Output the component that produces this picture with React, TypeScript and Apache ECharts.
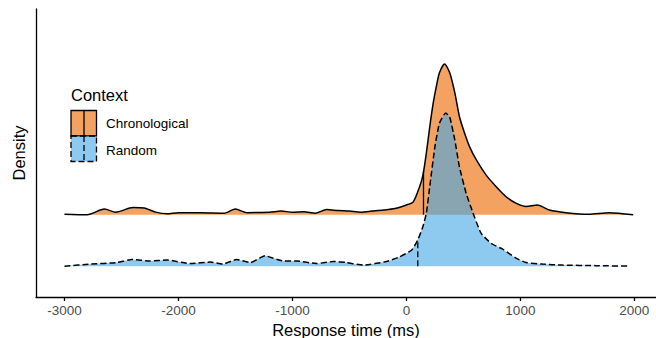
import React, { useEffect, useRef } from "react";
import * as echarts from "echarts";

// Ridge positions (baselines on the density axis)
const CHRONO_BASE = 2;
const RANDOM_BASE = 1;

const xTicks = [-3000, -2000, -1000, 0, 1000, 2000];

// Chronological context: response time (ms) and density height
const chronoX = [
  -3000, -2800, -2650, -2550, -2400, -2300, -2200, -2100, -2000, -1800,
  -1600, -1500, -1400, -1200, -1100, -1000, -900, -800, -700, -600,
  -500, -400, -300, -200, -100, 0, 60, 115, 145, 175,
  205, 235, 265, 290, 335, 380, 425, 465, 510, 555,
  615, 700, 790, 875, 965, 1050, 1150, 1255, 1400, 1600,
  1780, 1990,
];
const chronoH = [
  0.01, 0, 0.11, 0.05, 0.14, 0.13, 0.05, 0.02, 0.04, 0.04,
  0.03, 0.11, 0.04, 0.05, 0.07, 0.05, 0.06, 0.03, 0.1, 0.08,
  0.07, 0.05, 0.07, 0.09, 0.12, 0.19, 0.25, 0.54, 0.77, 1.2,
  1.71, 2.17, 2.52, 2.76, 2.93, 2.76, 2.37, 1.91, 1.59, 1.32,
  1.06, 0.77, 0.54, 0.35, 0.22, 0.16, 0.19, 0.09, 0.04, 0.01,
  0.04, 0,
];

// Random context
const randomX = [
  -3000, -2770, -2540, -2410, -2250, -2100, -1900, -1720, -1610, -1490,
  -1370, -1240, -1080, -960, -790, -640, -525, -380, -175, -60,
  45, 100, 145, 175, 205, 250, 290, 345, 380, 425,
  465, 525, 585, 655, 745, 845, 965, 1050, 1195, 1370,
  1665, 1955,
];
const randomH = [
  0, 0.04, 0.07, 0.13, 0.1, 0.12, 0.05, 0.08, 0.04, 0.13,
  0.07, 0.2, 0.1, 0.1, 0.05, 0.09, 0.07, 0.02, 0.09, 0.18,
  0.31, 0.51, 0.77, 1.03, 1.55, 2.32, 2.78, 2.98, 2.9, 2.45,
  1.93, 1.41, 1.03, 0.64, 0.44, 0.33, 0.15, 0.07, 0.04, 0.02,
  0.01, 0,
];

// Quantile line positions (ms)
const chronoQuantile = 150;
const randomQuantile = 100;

const ORANGE = "#F3A262";
const BLUE = "rgba(67,167,230,0.6)";
const FONT = "Liberation Sans";

function interp(xs: number[], hs: number[], x: number): number {
  for (let i = 0; i < xs.length - 1; i++) {
    if (x >= xs[i] && x <= xs[i + 1]) {
      const t = (x - xs[i]) / (xs[i + 1] - xs[i]);
      return hs[i] + t * (hs[i + 1] - hs[i]);
    }
  }
  return 0;
}

export default function App() {
  const ref = useRef<HTMLDivElement>(null);
  useEffect(() => {
    if (!ref.current) return;
    const chart = echarts.init(ref.current, null, { renderer: "svg" });
    const chronoData = chronoX.map((x, i) => [x, CHRONO_BASE + chronoH[i]]);
    const randomData = randomX.map((x, i) => [x, RANDOM_BASE + randomH[i]]);
    const cq = interp(chronoX, chronoH, chronoQuantile);
    const rq = interp(randomX, randomH, randomQuantile);
    const dashed = [6, 3];

    chart.setOption({
      animation: false,
      grid: {
        left: 36,
        right: 0,
        top: 9,
        bottom: 41,
        containLabel: false,
        outerBoundsMode: "none",
      },
      xAxis: {
        type: "value",
        min: -3250,
        max: 2190,
        name: "Response time (ms)",
        nameLocation: "middle",
        nameGap: 18,
        nameTextStyle: { fontFamily: FONT, fontSize: 16.5, color: "#000" },
        axisLine: { show: true, onZero: false, lineStyle: { color: "#000", width: 1.3 } },
        axisTick: {
          show: true,
          length: 4,
          customValues: xTicks,
          lineStyle: { color: "#000", width: 1.3 },
        },
        axisLabel: {
          customValues: xTicks,
          formatter: (v: number) => String(v),
          fontFamily: FONT,
          fontSize: 13.5,
          color: "#4D4D4D",
          margin: 6,
        },
        splitLine: { show: false },
      },
      yAxis: {
        type: "value",
        min: 0.4,
        max: 6,
        name: "Density",
        nameLocation: "middle",
        nameGap: 9,
        nameRotate: 90,
        nameTextStyle: { fontFamily: FONT, fontSize: 16.5, color: "#000" },
        axisLine: { show: true, onZero: false, lineStyle: { color: "#000", width: 1.3 } },
        axisTick: { show: false },
        axisLabel: { show: false },
        splitLine: { show: false },
      },
      series: [
        {
          type: "line",
          name: "Chronological",
          data: chronoData,
          smooth: 0.25,
          symbol: "none",
          silent: true,
          lineStyle: { color: "#000", width: 1.5 },
          areaStyle: { color: ORANGE, opacity: 1, origin: CHRONO_BASE },
          z: 2,
        },
        {
          type: "line",
          data: [
            [chronoQuantile, CHRONO_BASE],
            [chronoQuantile, CHRONO_BASE + cq],
          ],
          symbol: "none",
          silent: true,
          lineStyle: { color: "#000", width: 1.3 },
          z: 3,
        },
        {
          type: "line",
          name: "Random",
          data: randomData,
          smooth: 0.15,
          symbol: "none",
          silent: true,
          lineStyle: { color: "#000", width: 1.5, type: dashed },
          areaStyle: { color: BLUE, opacity: 1, origin: RANDOM_BASE },
          z: 4,
        },
        {
          type: "line",
          data: [
            [randomQuantile, RANDOM_BASE],
            [randomQuantile, RANDOM_BASE + rq],
          ],
          symbol: "none",
          silent: true,
          lineStyle: { color: "#000", width: 1.3, type: dashed },
          z: 5,
        },
      ],
      graphic: [
        {
          type: "text",
          left: 71,
          top: 86,
          style: { text: "Context", fontFamily: FONT, fontSize: 16.5, fill: "#000" },
        },
        {
          type: "rect",
          shape: { x: 71, y: 110.5, width: 25.5, height: 25.5 },
          style: { fill: ORANGE, stroke: "#000", lineWidth: 1.3 },
        },
        {
          type: "line",
          shape: { x1: 84, y1: 110.5, x2: 84, y2: 136 },
          style: { stroke: "#000", lineWidth: 1.3 },
        },
        {
          type: "rect",
          shape: { x: 71, y: 136, width: 25.5, height: 25.5 },
          style: { fill: BLUE, stroke: "#000", lineWidth: 1.3, lineDash: dashed },
        },
        {
          type: "line",
          shape: { x1: 84, y1: 136, x2: 84, y2: 161.5 },
          style: { stroke: "#000", lineWidth: 1.3, lineDash: dashed },
        },
        {
          type: "text",
          left: 106,
          top: 116,
          style: { text: "Chronological", fontFamily: FONT, fontSize: 13.5, fill: "#000" },
        },
        {
          type: "text",
          left: 106,
          top: 143,
          style: { text: "Random", fontFamily: FONT, fontSize: 13.5, fill: "#000" },
        },
      ],
    });
    return () => chart.dispose();
  }, []);
  return (
    <div
      ref={ref}
      style={{ position: "fixed", left: 0, top: 0, width: 656, height: 338, background: "#fff" }}
    />
  );
}
